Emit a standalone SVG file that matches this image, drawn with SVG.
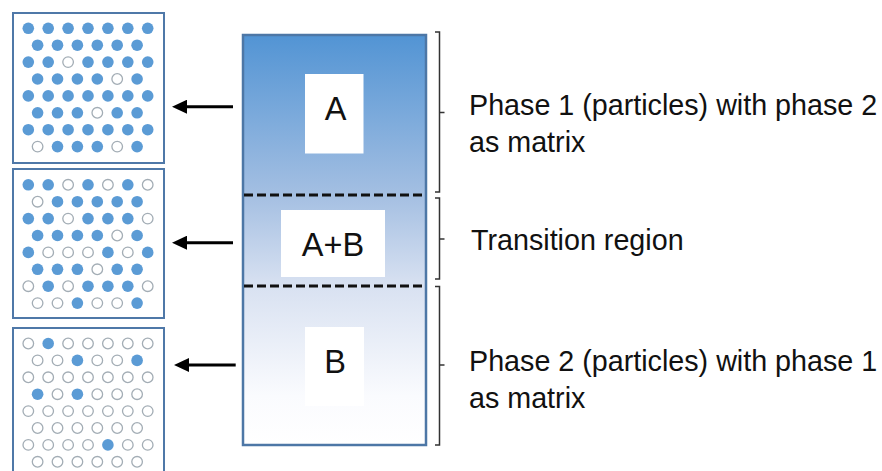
<svg xmlns="http://www.w3.org/2000/svg" width="882" height="471" viewBox="0 0 882 471">
<defs>
<linearGradient id="grad" x1="0" y1="0" x2="0" y2="1">
<stop offset="0" stop-color="#5294d4"/>
<stop offset="0.39" stop-color="#a4bfe2"/>
<stop offset="0.61" stop-color="#d8e1f1"/>
<stop offset="0.88" stop-color="#fafbfe"/>
<stop offset="1" stop-color="#ffffff"/>
</linearGradient>
<marker id="ah" viewBox="0 0 15 14" markerUnits="userSpaceOnUse" markerWidth="15" markerHeight="14" refX="7" refY="7" orient="auto">
<path d="M0,0 L15,7 L0,14 Z" fill="#000"/>
</marker>
<style>
.box{fill:#fff;stroke:#4f78a8;stroke-width:2}
.f{fill:#5b9bd5}
.o{fill:#fff;stroke:#a3adb5;stroke-width:1.3}
.lbl{fill:#fff}
.t{font-family:"Liberation Sans",Arial,sans-serif;font-size:28.7px;fill:#111}
.big{font-family:"Liberation Sans",Arial,sans-serif;font-size:32.5px;fill:#111;text-anchor:middle}
.dash{stroke:#111;stroke-width:3;stroke-dasharray:9 4}
.arrow{stroke:#000;stroke-width:3;marker-end:url(#ah)}
.brace{fill:none;stroke:#333;stroke-width:1.5}
</style>
</defs>
<rect width="882" height="471" fill="#fff"/>

<g id="box1">
<rect class="box" x="13" y="13" width="151" height="150"/>
<g>
<circle class="f" cx="28.3" cy="28.3" r="5.8"/><circle class="f" cx="48.2" cy="28.3" r="5.8"/><circle class="f" cx="68.1" cy="28.3" r="5.8"/><circle class="f" cx="88" cy="28.3" r="5.8"/><circle class="f" cx="107.9" cy="28.3" r="5.8"/><circle class="f" cx="127.8" cy="28.3" r="5.8"/><circle class="f" cx="147.7" cy="28.3" r="5.8"/>
<circle class="f" cx="37.6" cy="45.2" r="5.8"/><circle class="f" cx="57.5" cy="45.2" r="5.8"/><circle class="f" cx="77.4" cy="45.2" r="5.8"/><circle class="f" cx="97.3" cy="45.2" r="5.8"/><circle class="f" cx="117.2" cy="45.2" r="5.8"/><circle class="f" cx="137.1" cy="45.2" r="5.8"/>
<circle class="f" cx="28.3" cy="62.1" r="5.8"/><circle class="f" cx="48.2" cy="62.1" r="5.8"/><circle class="o" cx="68.1" cy="62.1" r="5.3"/><circle class="f" cx="88" cy="62.1" r="5.8"/><circle class="f" cx="107.9" cy="62.1" r="5.8"/><circle class="f" cx="127.8" cy="62.1" r="5.8"/><circle class="f" cx="147.7" cy="62.1" r="5.8"/>
<circle class="f" cx="37.6" cy="79" r="5.8"/><circle class="f" cx="57.5" cy="79" r="5.8"/><circle class="f" cx="77.4" cy="79" r="5.8"/><circle class="f" cx="97.3" cy="79" r="5.8"/><circle class="o" cx="117.2" cy="79" r="5.3"/><circle class="f" cx="137.1" cy="79" r="5.8"/>
<circle class="f" cx="28.3" cy="95.9" r="5.8"/><circle class="f" cx="48.2" cy="95.9" r="5.8"/><circle class="f" cx="68.1" cy="95.9" r="5.8"/><circle class="f" cx="88" cy="95.9" r="5.8"/><circle class="f" cx="107.9" cy="95.9" r="5.8"/><circle class="f" cx="127.8" cy="95.9" r="5.8"/><circle class="f" cx="147.7" cy="95.9" r="5.8"/>
<circle class="f" cx="37.6" cy="112.8" r="5.8"/><circle class="f" cx="57.5" cy="112.8" r="5.8"/><circle class="f" cx="77.4" cy="112.8" r="5.8"/><circle class="o" cx="97.3" cy="112.8" r="5.3"/><circle class="f" cx="117.2" cy="112.8" r="5.8"/><circle class="f" cx="137.1" cy="112.8" r="5.8"/>
<circle class="f" cx="28.3" cy="129.7" r="5.8"/><circle class="f" cx="48.2" cy="129.7" r="5.8"/><circle class="f" cx="68.1" cy="129.7" r="5.8"/><circle class="f" cx="88" cy="129.7" r="5.8"/><circle class="f" cx="107.9" cy="129.7" r="5.8"/><circle class="f" cx="127.8" cy="129.7" r="5.8"/><circle class="f" cx="147.7" cy="129.7" r="5.8"/>
<circle class="o" cx="37.6" cy="146.6" r="5.3"/><circle class="f" cx="57.5" cy="146.6" r="5.8"/><circle class="f" cx="77.4" cy="146.6" r="5.8"/><circle class="f" cx="97.3" cy="146.6" r="5.8"/><circle class="o" cx="117.2" cy="146.6" r="5.3"/><circle class="f" cx="137.1" cy="146.6" r="5.8"/>
</g>
</g>

<g id="box2">
<rect class="box" x="13" y="169" width="151" height="149"/>
<g transform="translate(0,156.5)">
<circle class="f" cx="28.3" cy="28.3" r="5.8"/><circle class="f" cx="48.2" cy="28.3" r="5.8"/><circle class="o" cx="68.1" cy="28.3" r="5.3"/><circle class="f" cx="88" cy="28.3" r="5.8"/><circle class="o" cx="107.9" cy="28.3" r="5.3"/><circle class="f" cx="127.8" cy="28.3" r="5.8"/><circle class="o" cx="147.7" cy="28.3" r="5.3"/>
<circle class="o" cx="37.6" cy="45.2" r="5.3"/><circle class="f" cx="57.5" cy="45.2" r="5.8"/><circle class="f" cx="77.4" cy="45.2" r="5.8"/><circle class="f" cx="97.3" cy="45.2" r="5.8"/><circle class="f" cx="117.2" cy="45.2" r="5.8"/><circle class="f" cx="137.1" cy="45.2" r="5.8"/>
<circle class="f" cx="28.3" cy="62.1" r="5.8"/><circle class="f" cx="48.2" cy="62.1" r="5.8"/><circle class="o" cx="68.1" cy="62.1" r="5.3"/><circle class="f" cx="88" cy="62.1" r="5.8"/><circle class="f" cx="107.9" cy="62.1" r="5.8"/><circle class="f" cx="127.8" cy="62.1" r="5.8"/><circle class="o" cx="147.7" cy="62.1" r="5.3"/>
<circle class="f" cx="37.6" cy="79" r="5.8"/><circle class="f" cx="57.5" cy="79" r="5.8"/><circle class="f" cx="77.4" cy="79" r="5.8"/><circle class="f" cx="97.3" cy="79" r="5.8"/><circle class="o" cx="117.2" cy="79" r="5.3"/><circle class="f" cx="137.1" cy="79" r="5.8"/>
<circle class="f" cx="28.3" cy="95.9" r="5.8"/><circle class="o" cx="48.2" cy="95.9" r="5.3"/><circle class="o" cx="68.1" cy="95.9" r="5.3"/><circle class="o" cx="88" cy="95.9" r="5.3"/><circle class="f" cx="107.9" cy="95.9" r="5.8"/><circle class="o" cx="127.8" cy="95.9" r="5.3"/><circle class="f" cx="147.7" cy="95.9" r="5.8"/>
<circle class="f" cx="37.6" cy="112.8" r="5.8"/><circle class="f" cx="57.5" cy="112.8" r="5.8"/><circle class="f" cx="77.4" cy="112.8" r="5.8"/><circle class="o" cx="97.3" cy="112.8" r="5.3"/><circle class="f" cx="117.2" cy="112.8" r="5.8"/><circle class="f" cx="137.1" cy="112.8" r="5.8"/>
<circle class="o" cx="28.3" cy="129.7" r="5.3"/><circle class="f" cx="48.2" cy="129.7" r="5.8"/><circle class="o" cx="68.1" cy="129.7" r="5.3"/><circle class="f" cx="88" cy="129.7" r="5.8"/><circle class="f" cx="107.9" cy="129.7" r="5.8"/><circle class="f" cx="127.8" cy="129.7" r="5.8"/><circle class="o" cx="147.7" cy="129.7" r="5.3"/>
<circle class="o" cx="37.6" cy="146.6" r="5.3"/><circle class="o" cx="57.5" cy="146.6" r="5.3"/><circle class="f" cx="77.4" cy="146.6" r="5.8"/><circle class="o" cx="97.3" cy="146.6" r="5.3"/><circle class="o" cx="117.2" cy="146.6" r="5.3"/><circle class="f" cx="137.1" cy="146.6" r="5.8"/>
</g>
</g>

<g id="box3">
<rect class="box" x="13" y="328" width="151" height="150"/>
<g transform="translate(0,315.2)">
<circle class="o" cx="28.3" cy="28.3" r="5.3"/><circle class="f" cx="48.2" cy="28.3" r="5.8"/><circle class="o" cx="68.1" cy="28.3" r="5.3"/><circle class="o" cx="88" cy="28.3" r="5.3"/><circle class="o" cx="107.9" cy="28.3" r="5.3"/><circle class="o" cx="127.8" cy="28.3" r="5.3"/><circle class="o" cx="147.7" cy="28.3" r="5.3"/>
<circle class="o" cx="37.6" cy="45.2" r="5.3"/><circle class="o" cx="57.5" cy="45.2" r="5.3"/><circle class="f" cx="77.4" cy="45.2" r="5.8"/><circle class="o" cx="97.3" cy="45.2" r="5.3"/><circle class="o" cx="117.2" cy="45.2" r="5.3"/><circle class="f" cx="137.1" cy="45.2" r="5.8"/>
<circle class="o" cx="28.3" cy="62.1" r="5.3"/><circle class="o" cx="48.2" cy="62.1" r="5.3"/><circle class="o" cx="68.1" cy="62.1" r="5.3"/><circle class="o" cx="88" cy="62.1" r="5.3"/><circle class="o" cx="107.9" cy="62.1" r="5.3"/><circle class="o" cx="127.8" cy="62.1" r="5.3"/><circle class="o" cx="147.7" cy="62.1" r="5.3"/>
<circle class="f" cx="37.6" cy="79" r="5.8"/><circle class="o" cx="57.5" cy="79" r="5.3"/><circle class="f" cx="77.4" cy="79" r="5.8"/><circle class="o" cx="97.3" cy="79" r="5.3"/><circle class="o" cx="117.2" cy="79" r="5.3"/><circle class="o" cx="137.1" cy="79" r="5.3"/>
<circle class="o" cx="28.3" cy="95.9" r="5.3"/><circle class="o" cx="48.2" cy="95.9" r="5.3"/><circle class="o" cx="68.1" cy="95.9" r="5.3"/><circle class="o" cx="88" cy="95.9" r="5.3"/><circle class="o" cx="107.9" cy="95.9" r="5.3"/><circle class="o" cx="127.8" cy="95.9" r="5.3"/><circle class="o" cx="147.7" cy="95.9" r="5.3"/>
<circle class="o" cx="37.6" cy="112.8" r="5.3"/><circle class="o" cx="57.5" cy="112.8" r="5.3"/><circle class="o" cx="77.4" cy="112.8" r="5.3"/><circle class="o" cx="97.3" cy="112.8" r="5.3"/><circle class="o" cx="117.2" cy="112.8" r="5.3"/><circle class="o" cx="137.1" cy="112.8" r="5.3"/>
<circle class="o" cx="28.3" cy="129.7" r="5.3"/><circle class="o" cx="48.2" cy="129.7" r="5.3"/><circle class="o" cx="68.1" cy="129.7" r="5.3"/><circle class="o" cx="88" cy="129.7" r="5.3"/><circle class="f" cx="107.9" cy="129.7" r="5.8"/><circle class="o" cx="127.8" cy="129.7" r="5.3"/><circle class="o" cx="147.7" cy="129.7" r="5.3"/>
<circle class="o" cx="37.6" cy="146.6" r="5.3"/><circle class="o" cx="57.5" cy="146.6" r="5.3"/><circle class="o" cx="77.4" cy="146.6" r="5.3"/><circle class="o" cx="97.3" cy="146.6" r="5.3"/><circle class="o" cx="117.2" cy="146.6" r="5.3"/><circle class="o" cx="137.1" cy="146.6" r="5.3"/>
</g>
</g>

<g id="column">
<rect x="243" y="35" width="183" height="410" fill="url(#grad)" stroke="#4d77a6" stroke-width="2.5"/>
<line class="dash" x1="244" y1="195" x2="425" y2="195"/>
<line class="dash" x1="244" y1="286" x2="425" y2="286"/>
</g>

<g id="labelA">
<rect class="lbl" x="305" y="74" width="58.5" height="79.5"/>
<text class="big" x="335.5" y="120">A</text>
</g>
<g id="labelAB">
<rect class="lbl" x="281" y="210" width="104" height="67"/>
<text class="big" x="333" y="256">A+B</text>
</g>
<g id="labelB">
<rect class="lbl" x="305" y="327" width="59" height="79"/>
<text class="big" x="335" y="372.5">B</text>
</g>

<g id="connectors">
<line class="arrow" x1="233" y1="106.7" x2="180" y2="106.7"/>
<line class="arrow" x1="233" y1="242.7" x2="180" y2="242.7"/>
<line class="arrow" x1="235.7" y1="365" x2="182" y2="365"/>
</g>

<g id="braces">
<path class="brace" d="M435,32 H439.5 V112.5 H444.5 M439.5,112.5 V192 H435"/>
<path class="brace" d="M435,198 H439.5 V239 H444.5 M439.5,239 V279 H435"/>
<path class="brace" d="M435,286.5 H439.5 V365 H444.5 M439.5,365 V445 H435"/>
</g>

<g id="text1">
<text class="t" x="469" y="115">Phase 1 (particles) with phase 2</text>
<text class="t" x="469" y="152">as matrix</text>
</g>
<g id="text2">
<text class="t" x="471" y="250">Transition region</text>
</g>
<g id="text3">
<text class="t" x="469" y="371">Phase 2 (particles) with phase 1</text>
<text class="t" x="469" y="408">as matrix</text>
</g>
</svg>
